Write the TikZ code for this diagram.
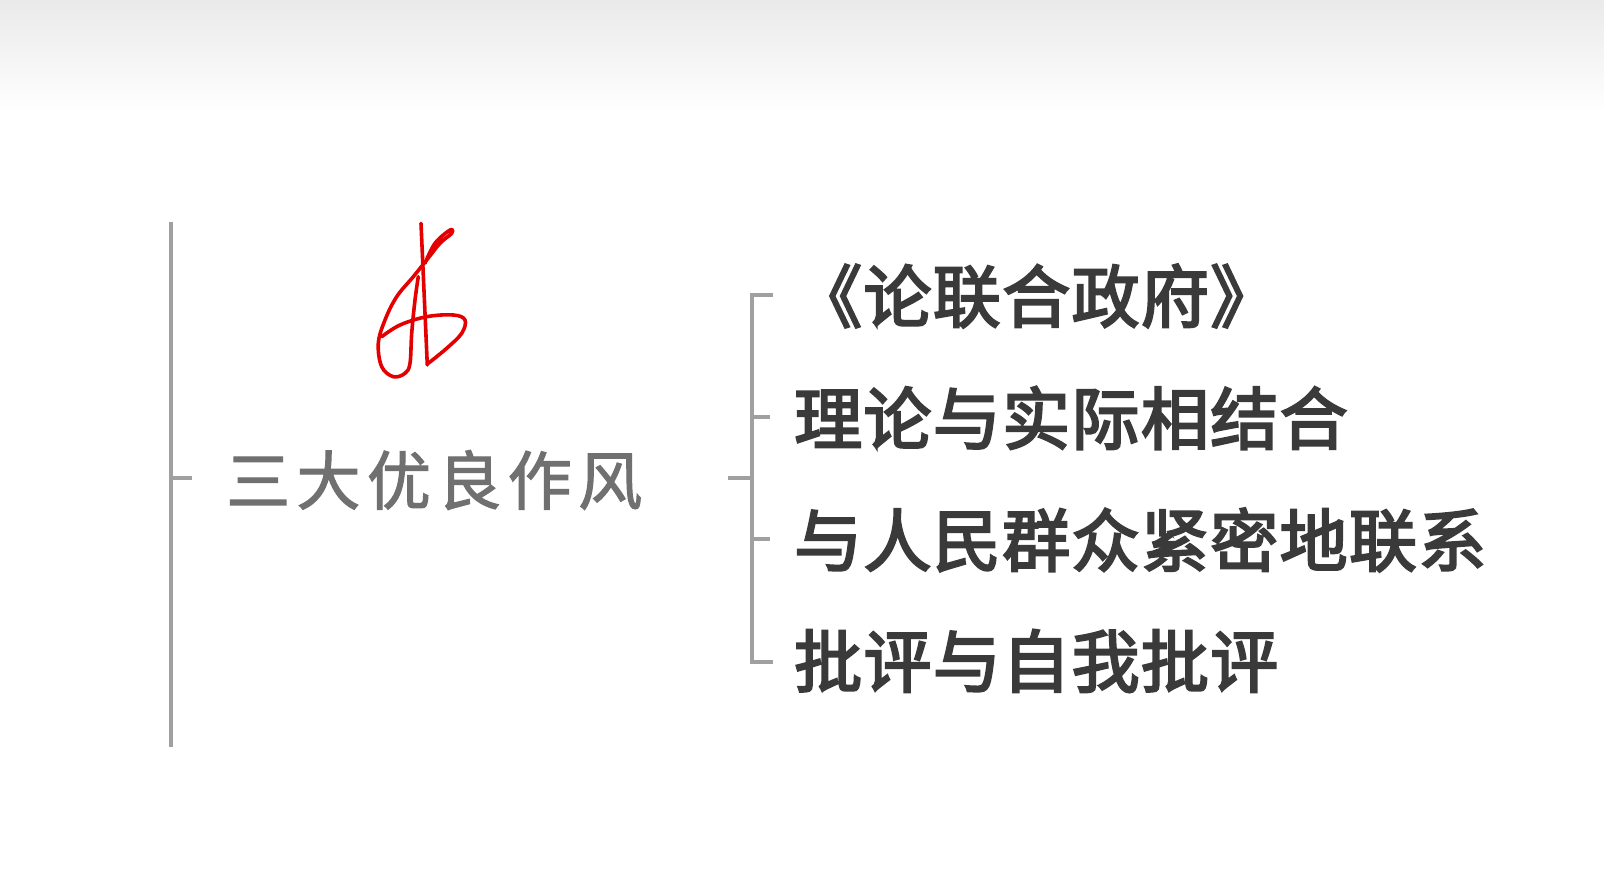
\documentclass[tikz,border=0pt]{standalone}
\usepackage{fontspec}
\newfontfamily\cjkmain[LetterSpace=10,FakeBold=1.8]{Noto Sans CJK SC}
\newfontfamily\cjkitem[LetterSpace=2,FakeBold=3.2]{Noto Sans CJK SC}
\definecolor{linegray}{HTML}{A0A0A0}
\definecolor{maingray}{HTML}{707070}
\definecolor{itemgray}{HTML}{3A3A3A}
\definecolor{topgray}{HTML}{EAEAEA}
\definecolor{sigred}{HTML}{E40000}
\begin{document}
\begin{tikzpicture}[x=1pt,y=-1pt,
  conn/.style={draw=linegray, line width=4pt},
  brk/.style={draw=linegray, line width=3.4pt},
  mainnode/.style={anchor=west, inner sep=0pt, text=maingray, font=\cjkmain\fontsize{64}{64}\selectfont},
  item/.style={anchor=west, inner sep=0pt, text=itemgray, font=\cjkitem\fontsize{68}{68}\selectfont},
  sig/.style={draw=sigred, line width=3.6pt, line cap=round, line join=round}]
\useasboundingbox (0,0) rectangle (1604,893);
\fill[white] (0,0) rectangle (1604,893);
\shade[top color=topgray, bottom color=white] (0,0) rectangle (1604,112);

% left trunk
\coordinate (ltop) at (171,222);
\coordinate (lbot) at (171,747);
\coordinate (lmid) at (171,478);
\coordinate (ltick) at (192,478);
\draw[conn] (ltop) -- (lbot);
\draw[conn] (lmid) -- (ltick);

\node[mainnode] (main) at (226,480) {三大优良作风};

% bracket
\coordinate (bjoin) at (728,478);
\coordinate (bmid) at (752,478);
\coordinate (b1) at (752,295);
\coordinate (b2) at (752,417);
\coordinate (b3) at (752,539);
\coordinate (b4) at (752,662);
\coordinate (t1) at (773,295);
\coordinate (t2) at (770,417);
\coordinate (t3) at (770,539);
\coordinate (t4) at (773,662);
\draw[brk] (t1) -- (b1) -- (b4) -- (t4);
\draw[brk] (b2) -- (t2);
\draw[brk] (b3) -- (t3);
\draw[brk] (bjoin) -- (bmid);

\node[item] (i1) at (794,296) {《论联合政府》};
\node[item] (i2) at (794,418) {理论与实际相结合};
\node[item] (i3) at (794,540) {与人民群众紧密地联系};
\node[item] (i4) at (794,661) {批评与自我批评};

% handwritten mark
\draw[sig] (421,223.3) -- (427.3,365);
\draw[sig] plot[smooth, tension=0.6] coordinates {(425,263.3) (435,243.3) (450,230) (451.7,233.3) (440,243.3) (426.7,260) (413.3,276.7) (396.7,296.7) (385,320) (378.3,343.3) (381.7,366.7) (393.3,376.7) (405,373.3) (410,363.3) (411.7,333.3) (415,300) (418.3,276.7)};
\draw[sig] plot[smooth, tension=0.6] coordinates {(381.7,336.7) (400,325) (426.7,316.7) (453.3,315) (465,320) (461.7,333.3) (446.7,348.3) (428.3,363.3)};
\end{tikzpicture}
\end{document}
